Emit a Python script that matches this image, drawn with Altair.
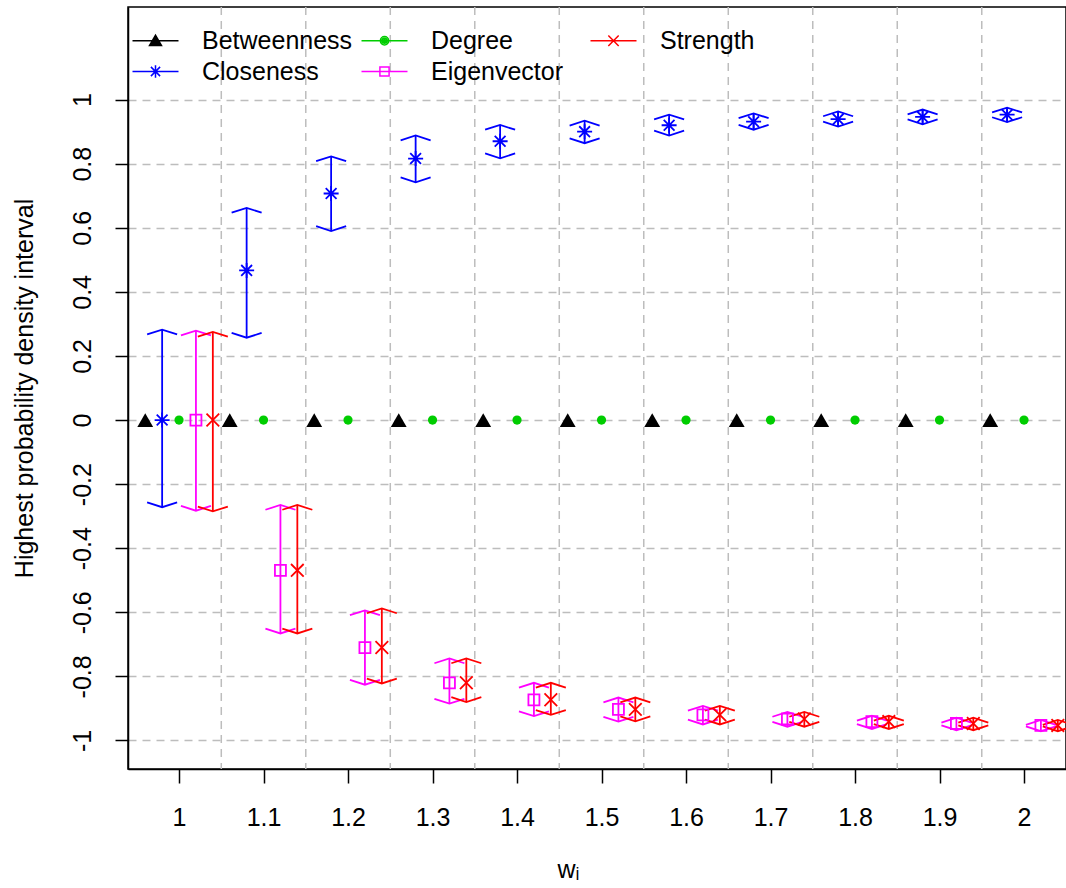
import altair as alt
import pandas as pd

# ---- data ----
w = [1.0, 1.1, 1.2, 1.3, 1.4, 1.5, 1.6, 1.7, 1.8, 1.9, 2.0]
series_names = ["Betweenness", "Closeness", "Degree", "Eigenvector", "Strength"]
series_offsets = [-0.04, -0.02, 0.0, 0.02, 0.04]
series_colors = ["#000000", "#0000FF", "#00CD00", "#FF00FF", "#FF0000"]

betweenness_mean = [0, 0, 0, 0, 0, 0, 0, 0, 0, 0, 0]
degree_mean = [0, 0, 0, 0, 0, 0, 0, 0, 0, 0, 0]

closeness_mean = [0.0, 0.467, 0.707, 0.816, 0.870, 0.900, 0.920, 0.931, 0.939, 0.946, 0.953]
closeness_lo = [-0.272, 0.257, 0.590, 0.742, 0.817, 0.864, 0.888, 0.906, 0.916, 0.923, 0.930]
closeness_hi = [0.282, 0.662, 0.823, 0.888, 0.921, 0.934, 0.953, 0.957, 0.963, 0.969, 0.975]

eigen_mean = [0.0, -0.469, -0.710, -0.820, -0.873, -0.903, -0.920, -0.933, -0.941, -0.947, -0.953]
eigen_lo = [-0.283, -0.666, -0.826, -0.885, -0.924, -0.941, -0.950, -0.957, -0.964, -0.968, -0.971]
eigen_hi = [0.279, -0.265, -0.594, -0.744, -0.820, -0.866, -0.892, -0.911, -0.923, -0.929, -0.936]

strength_mean = [0.0, -0.469, -0.710, -0.820, -0.873, -0.903, -0.920, -0.933, -0.941, -0.947, -0.953]
strength_lo = [-0.285, -0.666, -0.822, -0.880, -0.920, -0.940, -0.950, -0.957, -0.964, -0.968, -0.971]
strength_hi = [0.275, -0.265, -0.588, -0.744, -0.820, -0.866, -0.892, -0.911, -0.923, -0.929, -0.936]

x_ticks = [1.0, 1.1, 1.2, 1.3, 1.4, 1.5, 1.6, 1.7, 1.8, 1.9, 2.0]
y_ticks = [-1, -0.8, -0.6, -0.4, -0.2, 0, 0.2, 0.4, 0.6, 0.8, 1]
v_grid = [1.05, 1.15, 1.25, 1.35, 1.45, 1.55, 1.65, 1.75, 1.85, 1.95]

# ---- build tables ----
means = {
    "Betweenness": (betweenness_mean, None, None),
    "Closeness": (closeness_mean, closeness_lo, closeness_hi),
    "Degree": (degree_mean, None, None),
    "Eigenvector": (eigen_mean, eigen_lo, eigen_hi),
    "Strength": (strength_mean, strength_lo, strength_hi),
}
rows = []
for name, off in zip(series_names, series_offsets):
    m, lo, hi = means[name]
    for i, wi in enumerate(w):
        rows.append({
            "series": name,
            "w": wi,
            "pos": round(wi + off, 4),
            "mean": m[i],
            "lo": lo[i] if lo is not None else None,
            "hi": hi[i] if hi is not None else None,
        })
df = pd.DataFrame(rows)
grid_df = pd.DataFrame({"pos": v_grid})

FONT = "Liberation Sans"
FS = 25
GRID = "#bdbdbd"
SW = 1.8

xscale = alt.Scale(domain=[0.9396, 2.0497], nice=False, zero=False)
yscale = alt.Scale(domain=[-1.089, 1.289], nice=False, zero=False)

x_axis = alt.Axis(
    values=x_ticks, labelExpr="'' + datum.value", grid=False,
    tickSize=14, tickColor="black", tickWidth=1.5,
    domainColor="black", domainWidth=1.5,
    labelFontSize=FS, labelFont=FONT, labelColor="black",
    labelBaseline="alphabetic", labelPadding=42,
    title="wᵢ", titleFont=FONT, titleFontSize=FS, titleFontWeight="normal",
    titleColor="black", titleX=440, titleY=108, titleBaseline="alphabetic",
    titleAlign="center",
)
y_axis = alt.Axis(
    values=y_ticks, labelExpr="'' + datum.value",
    grid=True, gridDash=[8, 6], gridColor=GRID, gridWidth=1.5,
    tickSize=13, tickColor="black", tickWidth=1.5,
    domainColor="black", domainWidth=1.5,
    labelFontSize=FS, labelFont=FONT, labelColor="black",
    labelAngle=270, labelAlign="center", labelBaseline="alphabetic", labelPadding=25,
    title="Highest probability density interval", titleFont=FONT, titleFontSize=FS,
    titleFontWeight="normal", titleColor="black", titleAngle=270,
    titleX=-96, titleY=381, titleBaseline="alphabetic", titleAlign="center",
)

X = alt.X("pos:Q", scale=xscale, axis=x_axis)
Y = alt.Y("mean:Q", scale=yscale, axis=y_axis)

vgrid = alt.Chart(grid_df).mark_rule(
    strokeDash=[8, 6], color=GRID, strokeWidth=1.5
).encode(x=X)

CAP_TOP = "M-1,0.32L0,0L1,0.32"
CAP_BOT = "M-1,-0.32L0,0L1,-0.32"

layers = [vgrid]
for name, col in zip(series_names, series_colors):
    if means[name][1] is None:
        continue
    sub = alt.Chart(df).transform_filter(alt.datum.series == name)
    layers.append(sub.mark_rule(color=col, strokeWidth=SW).encode(
        x=X, y=alt.Y("lo:Q", scale=yscale, axis=y_axis), y2="hi:Q"))
    layers.append(sub.mark_point(shape=CAP_TOP, size=900, color=col, filled=False,
                                 strokeWidth=SW, opacity=1).encode(
        x=X, y=alt.Y("hi:Q", scale=yscale, axis=y_axis)))
    layers.append(sub.mark_point(shape=CAP_BOT, size=900, color=col, filled=False,
                                 strokeWidth=SW, opacity=1).encode(
        x=X, y=alt.Y("lo:Q", scale=yscale, axis=y_axis)))

ASTER = "M-1,0L1,0M0,-1L0,1M-0.72,-0.72L0.72,0.72M-0.72,0.72L0.72,-0.72"
XMARK = "M-1,-1L1,1M-1,1L1,-1"
marker_specs = {
    "Betweenness": dict(shape="triangle-up", size=250, filled=True),
    "Closeness": dict(shape=ASTER, size=225, filled=False),
    "Degree": dict(shape="circle", size=85, filled=True),
    "Eigenvector": dict(shape="square", size=121, filled=False),
    "Strength": dict(shape=XMARK, size=160, filled=False),
}
for name, col in zip(series_names, series_colors):
    sp = marker_specs[name]
    layers.append(
        alt.Chart(df).transform_filter(alt.datum.series == name).mark_point(
            color=col, strokeWidth=SW, opacity=1, **sp
        ).encode(x=X, y=Y)
    )

# ---- legend (line + symbol, as in R's legend) ----
LINE = "M-2,0L2,0"
legend_paths = [
    LINE + "M-0.52,0.42L0.52,0.42L0,-0.48Z M-0.34,0.3L0.34,0.3L0,-0.22Z M-0.16,0.2L0.16,0.2L0,0.02Z",
    LINE + "M0,-0.55L0,0.55M-0.55,0L0.55,0M-0.4,-0.4L0.4,0.4M-0.4,0.4L0.4,-0.4",
    LINE + "M0.36,0A0.36,0.36 0 1,1 -0.36,0A0.36,0.36 0 1,1 0.36,0Z"
           "M0.22,0A0.22,0.22 0 1,1 -0.22,0A0.22,0.22 0 1,1 0.22,0Z"
           "M0.08,0A0.08,0.08 0 1,1 -0.08,0A0.08,0.08 0 1,1 0.08,0Z",
    LINE + "M-0.4,-0.4L0.4,-0.4L0.4,0.4L-0.4,0.4Z",
    LINE + "M-0.45,-0.45L0.45,0.45M-0.45,0.45L0.45,-0.45",
]


def mk_legend():
    return alt.Legend(
        title=None, orient="none", direction="vertical", legendX=4, legendY=21,
        columns=3, gridAlign="all", symbolSize=529, symbolOffset=11, labelOffset=34,
        labelFont=FONT, labelFontSize=FS, labelColor="black",
        rowPadding=5, columnPadding=5, padding=0, symbolStrokeWidth=1.5,
        labelLimit=400,
    )


legend_layer = alt.Chart(df).transform_filter(alt.datum.w == 1.0).mark_point(
    filled=False, opacity=0, strokeWidth=1.5, size=529
).encode(
    x=X, y=Y,
    shape=alt.Shape("series:N", scale=alt.Scale(domain=series_names, range=legend_paths), legend=mk_legend()),
    stroke=alt.Stroke("series:N", scale=alt.Scale(domain=series_names, range=series_colors), legend=mk_legend()),
)
layers.append(legend_layer)

chart = alt.layer(*layers).properties(
    width=938, height=762,
    padding={"left": 128, "top": 7, "right": 0, "bottom": 119},
    autosize=alt.AutoSizeParams(type="none"),
    background="white",
).configure(font=FONT).configure_view(stroke="black", strokeWidth=1.5)

chart.save("out.html", embed_options={"renderer": "svg", "actions": False})
